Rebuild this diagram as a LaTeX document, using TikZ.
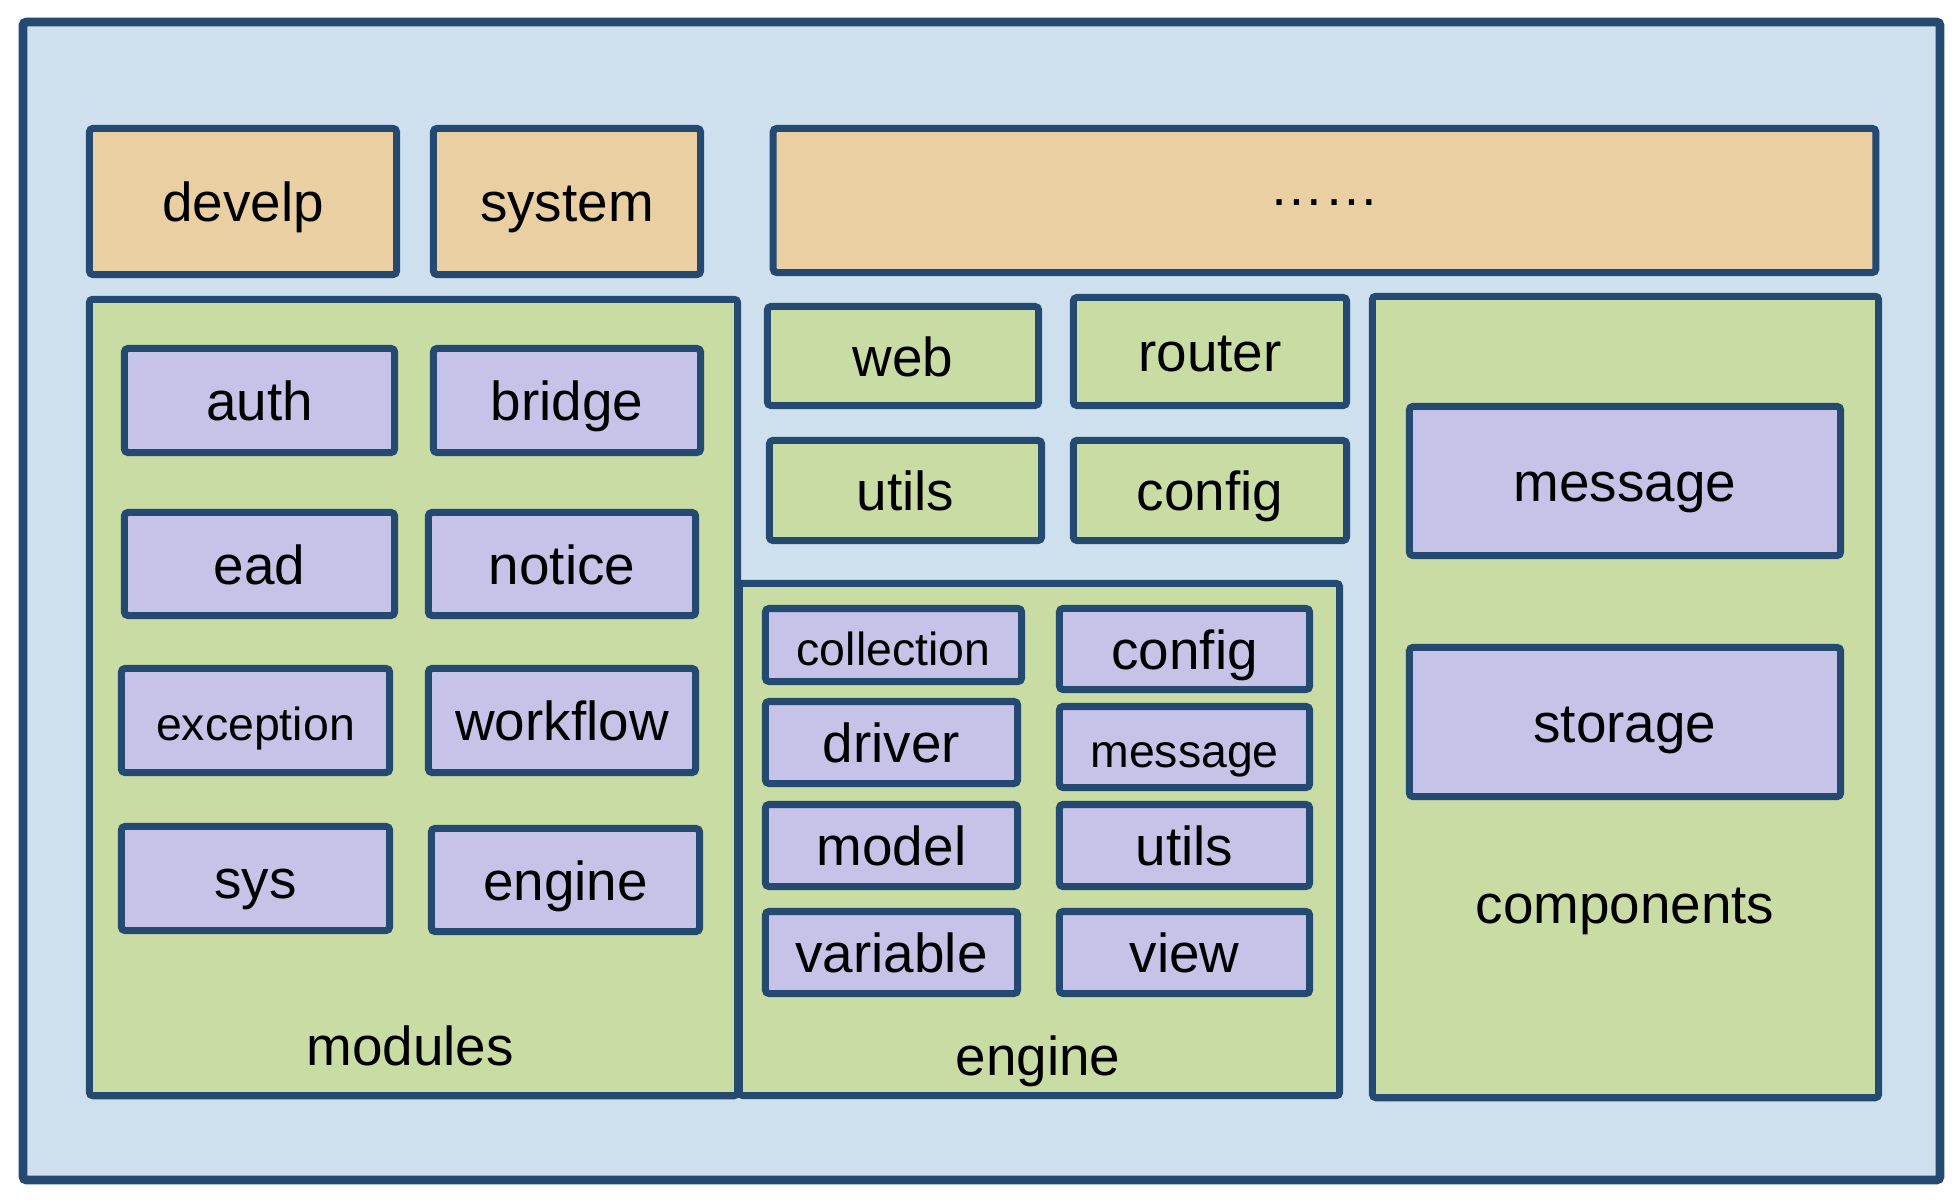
\documentclass[tikz,border=0pt]{standalone}
\usepackage{fontspec}
\setmainfont{Liberation Sans}
\definecolor{edge}{RGB}{36,74,114}
\definecolor{sky}{RGB}{206,224,238}
\definecolor{sand}{RGB}{233,207,161}
\definecolor{leaf}{RGB}{201,220,164}
\definecolor{lilac}{RGB}{198,194,232}
\begin{document}
\begin{tikzpicture}[x=0.01cm, y=-0.01cm,
  every node/.style={font=\fontsize{15.6}{18}\selectfont, text height=2.2ex, text depth=0pt},
  box/.style={draw=edge, line width=2pt, rounded corners=1pt, inner sep=0pt, outer sep=0pt},
  top/.style={box, fill=sand},
  grp/.style={box, fill=leaf},
  pkg/.style={box, fill=lilac},
  small/.style={font=\fontsize{13.2}{16}\selectfont}]
\useasboundingbox (0,0) rectangle (1960,1200);
\draw[draw=edge, fill=sky, line width=2.5pt, rounded corners=1pt] (23,22) rectangle (1940,1180);
% top row
\node[top, minimum width=3.07cm, minimum height=1.46cm] (develp) at (243,201.5) {develp};
\node[top, minimum width=2.67cm, minimum height=1.46cm] (system) at (567,201.5) {system};
\node[top, text height=0.26em, minimum width=11.02cm, minimum height=1.44cm] (more) at (1324.5,200.5) {……};
% modules
\node[grp, minimum width=6.48cm, minimum height=7.96cm] (modules) at (413.5,697.5) {};
\node (modlbl) at (410,1045) {modules};
\node[pkg, minimum width=2.70cm, minimum height=1.04cm] (auth) at (259.5,400.5) {auth};
\node[pkg, minimum width=2.67cm, minimum height=1.04cm] (bridge) at (567,400.5) {bridge};
\node[pkg, minimum width=2.70cm, minimum height=1.03cm] (ead) at (259.5,564) {ead};
\node[pkg, minimum width=2.67cm, minimum height=1.03cm] (notice) at (562,564) {notice};
\node[pkg, small, minimum width=2.68cm, minimum height=1.04cm] (exception) at (255.5,720.5) {exception};
\node[pkg, minimum width=2.67cm, minimum height=1.04cm] (workflow) at (562,720.5) {workflow};
\node[pkg, minimum width=2.68cm, minimum height=1.04cm] (sys) at (255.5,878.5) {sys};
\node[pkg, minimum width=2.68cm, minimum height=1.03cm] (engmod) at (565.5,880) {engine};
% core
\node[grp, minimum width=2.71cm, minimum height=0.99cm] (web) at (903,356) {web};
\node[grp, minimum width=2.73cm, minimum height=1.08cm] (router) at (1210,351.5) {router};
\node[grp, minimum width=2.72cm, minimum height=1.00cm] (utils) at (905.5,490.5) {utils};
\node[grp, minimum width=2.73cm, minimum height=1.00cm] (config) at (1210,490.5) {config};
% engine
\node[grp, minimum width=6.00cm, minimum height=5.12cm] (engine) at (1039.5,839.5) {};
\node (englbl) at (1038,1055) {engine};
\node[pkg, small, minimum width=2.56cm, minimum height=0.73cm] (collection) at (893.5,645) {collection};
\node[pkg, minimum width=2.50cm, minimum height=0.81cm] (engconfig) at (1184.5,649) {config};
\node[pkg, minimum width=2.52cm, minimum height=0.82cm] (driver) at (891.5,742.5) {driver};
\node[pkg, small, minimum width=2.50cm, minimum height=0.81cm] (engmsg) at (1184.5,747) {message};
\node[pkg, minimum width=2.52cm, minimum height=0.82cm] (model) at (891.5,845.5) {model};
\node[pkg, minimum width=2.50cm, minimum height=0.82cm] (engutils) at (1184.5,845.5) {utils};
\node[pkg, minimum width=2.52cm, minimum height=0.82cm] (variable) at (891.5,952.5) {variable};
\node[pkg, minimum width=2.50cm, minimum height=0.82cm] (view) at (1184.5,952.5) {view};
% components
\node[grp, minimum width=5.06cm, minimum height=8.01cm] (components) at (1625.5,697) {};
\node (complbl) at (1625,903) {components};
\node[pkg, minimum width=4.31cm, minimum height=1.49cm] (message) at (1625,481) {message};
\node[pkg, minimum width=4.31cm, minimum height=1.49cm] (storage) at (1625,722) {storage};
\end{tikzpicture}
\end{document}
